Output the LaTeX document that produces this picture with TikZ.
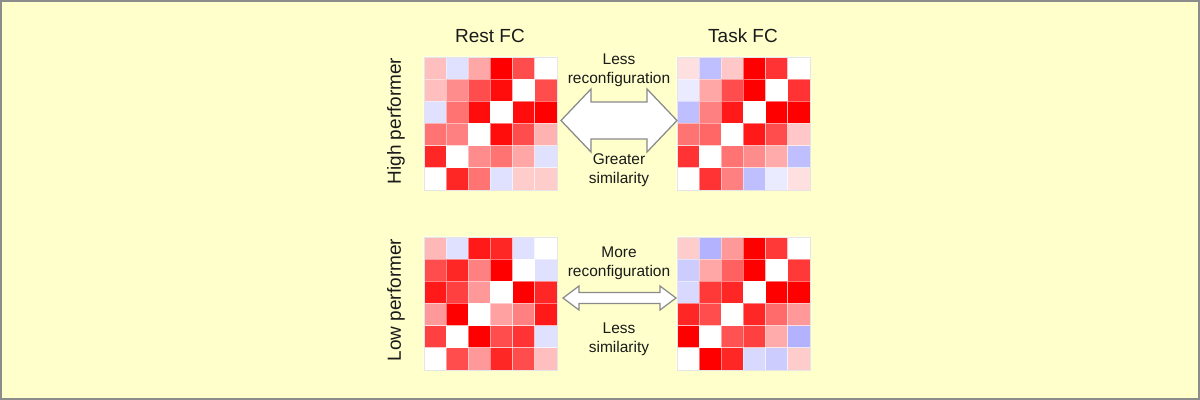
\documentclass[tikz,border=0pt]{standalone}
\usepackage{fontspec}
\setmainfont{Liberation Sans}
\usepackage{xcolor}
\usepackage{tikz}
\usetikzlibrary{arrows.meta,positioning,calc}
\definecolor{panelbg}{HTML}{FFFFCC}
\definecolor{framegray}{HTML}{8C8C8C}
\definecolor{arrowgray}{HTML}{8A8A8A}
\definecolor{inktext}{HTML}{1A1A1A}
\tikzset{
  title/.style={font=\fontsize{13.5}{16}\selectfont, text=inktext, inner sep=0pt},
  rowlabel/.style={title, rotate=90},
  note/.style={font=\fontsize{11}{13.5}\selectfont, text=inktext, align=center, inner sep=0pt},
  fcbox/.style={draw=white!80!gray, line width=0.4pt, minimum size=3.33cm, inner sep=0pt},
  cell/.style={draw=white, draw opacity=0.45, line width=0.4pt},
  blockarrow/.style={draw=arrowgray, fill=white, line width=0.9pt, line join=miter}
}
% one FC matrix: #1 = box name, #2 = 36 values (row by row), >0 red, <0 blue
\newcommand{\fcgrid}[2]{%
  \foreach \v [count=\k from 0] in {#2} {
    \pgfmathtruncatemacro{\row}{int(\k/6)}
    \pgfmathtruncatemacro{\col}{mod(\k,6)}
    \ifnum\v<0 \pgfmathtruncatemacro{\a}{-\v}\colorlet{cellc}{blue!\a!white}\else\colorlet{cellc}{red!\v!white}\fi
    \filldraw[cell, fill=cellc] ($(#1.north west)+(\col*22.2,\row*22.2)$) rectangle ++(22.2,22.2);
  }
  \node[fcbox] at (#1) {};
}
% two-headed block arrow round #1: half length, half shaft, half head, head length
\newcommand{\twoway}[5]{%
  \draw[blockarrow, shift={(#1)}] (-#2,0) -- (-#2+#5,-#4) -- (-#2+#5,-#3) -- (#2-#5,-#3) -- (#2-#5,-#4)
    -- (#2,0) -- (#2-#5,#4) -- (#2-#5,#3) -- (-#2+#5,#3) -- (-#2+#5,#4) -- cycle;
}
\begin{document}
\begin{tikzpicture}[x=0.025cm, y=-0.025cm]
  \useasboundingbox (0,0) rectangle (1200,400);
  \filldraw[fill=panelbg, draw=framegray, line width=1.5pt] (1,1) rectangle (1199,399);

  \node[title] (rest) at (490,36) {Rest FC};
  \node[title] (task) at (743,36) {Task FC};
  \node[rowlabel] (high) at (396,121) {High performer};
  \node[rowlabel] (low) at (396,300) {Low performer};

  % matrices
  \node[fcbox] (resthi) at (490.6,123.6) {};
  \node[fcbox] (taskhi) at (743.6,123.6) {};
  \node[fcbox] (restlo) at (490.6,303.6) {};
  \node[fcbox] (tasklo) at (743.6,303.6) {};

  \fcgrid{resthi}{25,-12,35,100,70,0, 25,45,70,95,0,70, -12,55,95,0,95,100, 55,50,0,95,70,30, 85,0,45,55,35,-12, 0,85,55,-12,20,20}
  \fcgrid{taskhi}{12,-25,22,100,80,0, -8,35,70,100,0,80, -25,50,90,0,100,100, 55,60,0,90,70,22, 80,0,55,45,33,-25, 0,80,50,-25,-8,12}
  \fcgrid{restlo}{28,-12,90,85,-12,0, 70,85,50,100,0,-12, 90,75,40,0,100,85, 40,100,0,37,50,90, 75,0,100,70,80,-12, 0,70,40,85,70,25}
  \fcgrid{tasklo}{20,-30,40,100,78,0, -20,35,62,100,0,78, -15,78,85,0,100,100, 85,70,0,85,58,40, 100,0,68,75,33,-30, 0,100,85,-15,-20,20}

  % rest <-> task
  \coordinate (hiarrow) at (619,120.5);
  \twoway{hiarrow}{58}{18.5}{31.5}{30}
  \node[note] (hitop) at (619,70) {Less\\reconfiguration};
  \node[note] (hibot) at (619,170.5) {Greater\\similarity};

  \coordinate (loarrow) at (619.5,298);
  \twoway{loarrow}{56.5}{5.5}{12}{16}
  \node[note] (lotop) at (619,263) {More\\reconfiguration};
  \node[note] (lobot) at (619,339.5) {Less\\similarity};
\end{tikzpicture}
\end{document}
